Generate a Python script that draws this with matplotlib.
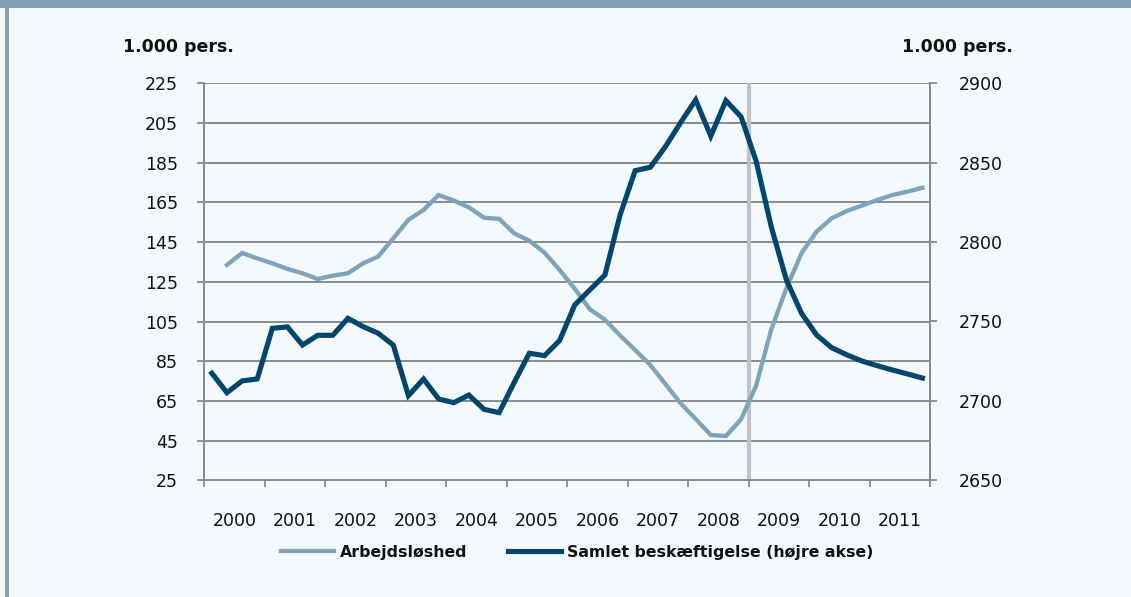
import matplotlib
matplotlib.use("Agg")
import matplotlib.pyplot as plt
import numpy as np
from matplotlib.patches import Rectangle

plt.rcParams['font.family'] = ['DejaVu Sans']

years = ["2000", "2001", "2002", "2003", "2004", "2005", "2006",
         "2007", "2008", "2009", "2010", "2011"]

# Quarterly values, 2000Q1 .. 2011Q4 (None = no data)
arbejdsloshed = [None, 133.5, 139.5, 136.8, 134.3, 131.5, 129.3, 126.4,
                 128.1, 129.3, 134.3, 137.7, 146.9, 156.2, 161.2, 168.7,
                 165.9, 162.5, 157.3, 156.7, 149.4, 145.7, 139.7, 131.0,
                 121.5, 111.2, 105.9, 98.0, 90.6, 83.1, 73.5, 63.8,
                 55.9, 47.8, 47.3, 55.7, 72.7, 101.0, 121.7, 139.4,
                 150.3, 157.0, 160.7, 163.4, 166.2, 168.7, 170.4, 172.4]

beskaeftigelse = [2717.4, 2705.2, 2712.6, 2713.8, 2745.7, 2746.6, 2735.2, 2741.3,
                  2741.3, 2752.0, 2746.8, 2742.6, 2735.2, 2703.3, 2713.8, 2701.2,
                  2698.9, 2703.7, 2694.7, 2692.6, 2711.7, 2730.0, 2728.5, 2738.0,
                  2760.4, 2769.9, 2779.3, 2817.1, 2845.0, 2847.1, 2860.1, 2875.2,
                  2889.5, 2866.8, 2889.1, 2879.0, 2851.0, 2809.7, 2776.2, 2755.2,
                  2741.5, 2733.5, 2729.0, 2725.1, 2722.2, 2719.5, 2717.0, 2714.4]

left_ticks = [25, 45, 65, 85, 105, 125, 145, 165, 185, 205, 225]
right_ticks = [2650, 2700, 2750, 2800, 2850, 2900]

LIGHT = "#7fa3b9"
DARK = "#00466d"
GRID = "#8a8a8a"
BG = "#f4f9fd"
FRAME = "#7fa2b8"
TXT = "#111111"

W, H = 1131, 597
fig = plt.figure(figsize=(W / 100, H / 100), dpi=100)
fig.patch.set_facecolor(BG)

# frame: top bar and left border
fig.add_artist(Rectangle((0, 1 - 8 / H), 1, 8 / H, transform=fig.transFigure,
                         facecolor=FRAME, edgecolor='none', zorder=0))
fig.add_artist(Rectangle((5 / W, 0), 4 / W, 1, transform=fig.transFigure,
                         facecolor=FRAME, edgecolor='none', zorder=0))

left, right, top, bottom = 204.3 / W, 930 / W, 1 - 83.3 / H, 1 - 480.3 / H
ax = fig.add_axes([left, bottom, right - left, top - bottom])
ax.set_facecolor('none')
ax2 = ax.twinx()

n = len(beskaeftigelse)
x = (np.arange(n) + 0.5) / 4.0

a = np.array([np.nan if v is None else v for v in arbejdsloshed], dtype=float)
ax.plot(x, a, color=LIGHT, lw=3.1, solid_joinstyle='miter', zorder=3,
        label="Arbejdsløshed")
ax2.plot(x, beskaeftigelse, color=DARK, lw=3.7, solid_joinstyle='miter',
         zorder=3, label="Samlet beskæftigelse (højre akse)")

ax.set_xlim(0, len(years))
ax.set_ylim(25, 225)
ax2.set_ylim(2650, 2900)

ax.set_yticks(left_ticks)
ax2.set_yticks(right_ticks)
ax.grid(axis='y', color=GRID, lw=1.4)
ax.set_axisbelow(True)

# vertical marker at 2009
ax.axvline(9, color="#c2c2c2", lw=3.0, zorder=2)

# x ticks at category boundaries, labels centred
ax.set_xticks(np.arange(len(years) + 1))
ax.set_xticklabels([])
ax.set_xticks(np.arange(len(years)) + 0.5, minor=True)
ax.set_xticklabels(years, minor=True)
ax.tick_params(axis='x', which='major', length=5, width=1.3, color=GRID)
ax.tick_params(axis='x', which='minor', length=0, pad=23, labelsize=12.5,
               labelcolor=TXT)
ax.tick_params(axis='y', length=5, width=1.3, color=GRID, pad=14,
               labelsize=12.5, labelcolor=TXT)
ax2.tick_params(axis='y', length=5, width=1.3, color=GRID, pad=16,
                labelsize=12.5, labelcolor=TXT)

for a_ in (ax, ax2):
    for s in a_.spines.values():
        s.set_color(GRID)
        s.set_linewidth(1.4)
    a_.spines['top'].set_visible(False)

fig.text(178 / W, 1 - 47 / H, "1.000 pers.", ha='center', va='center',
         fontsize=12.5, fontweight='bold', color=TXT)
fig.text(957 / W, 1 - 47 / H, "1.000 pers.", ha='center', va='center',
         fontsize=12.5, fontweight='bold', color=TXT)

h1, l1 = ax.get_legend_handles_labels()
h2, l2 = ax2.get_legend_handles_labels()
leg = fig.legend(h1 + h2, l1 + l2, loc='center', ncol=2, frameon=False,
                 bbox_to_anchor=(577 / W, 1 - 552 / H),
                 prop={'weight': 'bold', 'size': 11.3},
                 handlelength=3.4, handletextpad=0.35, columnspacing=2.6)
for t in leg.get_texts():
    t.set_color(TXT)

fig.savefig("out.png", dpi=100, facecolor=BG)
